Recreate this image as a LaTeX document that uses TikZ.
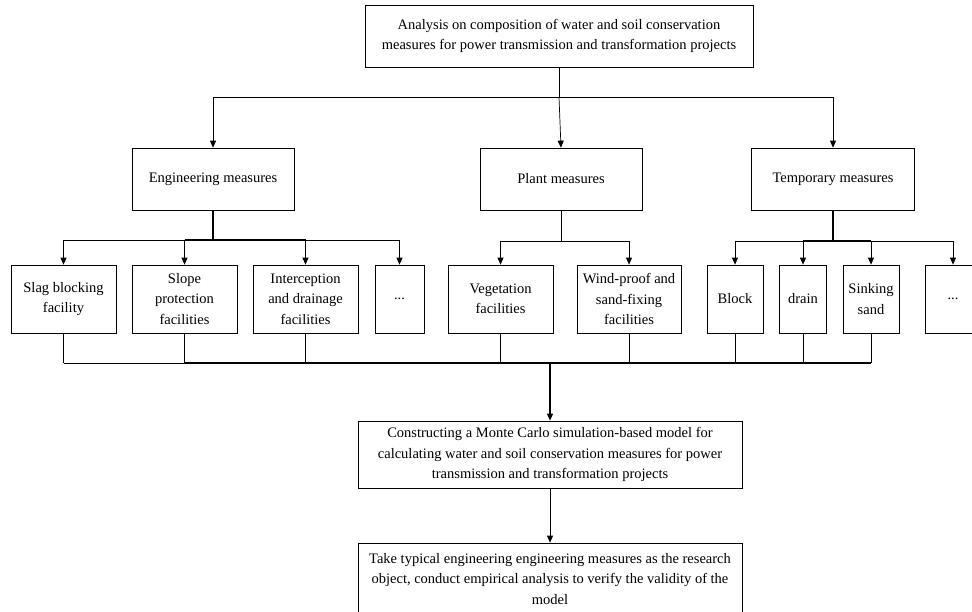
\documentclass[tikz,border=0pt]{standalone}
\usepackage{fontspec}
\setmainfont{Liberation Serif}
\usetikzlibrary{arrows.meta}
\begin{document}
\begin{tikzpicture}[x=1pt,y=-1pt,
  box/.style={draw, line width=0.7pt, inner sep=0pt, align=center,
    font=\fontsize{14.5}{20.5}\selectfont},
  conn/.style={line width=0.7pt},
  arr/.style={line width=0.7pt, -{Triangle[length=7pt,width=6pt]}},
  thickarr/.style={line width=1.4pt, -{Triangle[length=7pt,width=6pt]}}]
\useasboundingbox (0,0) rectangle (972,611);
\clip (0,0) rectangle (972,611);
% top
\node[box, minimum width=388pt, minimum height=62pt] (top) at (559,36)
  {Analysis on composition of water and soil conservation\\measures for power transmission and transformation projects};
% level 2
\node[box, minimum width=162pt, minimum height=62pt] (eng) at (213,179) {Engineering measures};
\node[box, minimum width=162pt, minimum height=62pt] (plant) at (561,179) {Plant measures};
\node[box, minimum width=163pt, minimum height=62pt] (temp) at (833,179) {Temporary measures};
% level 3
\node[box, minimum width=105pt, minimum height=68pt] (slag) at (63.5,299) {Slag blocking\\facility};
\node[box, minimum width=105pt, minimum height=68pt] (slope) at (184.5,299) {Slope\\protection\\facilities};
\node[box, minimum width=105pt, minimum height=68pt] (inter) at (305.5,299) {Interception\\and drainage\\facilities};
\node[box, minimum width=49pt, minimum height=68pt] (dotsa) at (399.5,299) {...};
\node[box, minimum width=105pt, minimum height=68pt] (veg) at (500.5,299) {Vegetation\\facilities};
\node[box, minimum width=104pt, minimum height=68pt] (wind) at (629,299) {Wind-proof and\\sand-fixing\\facilities};
\node[box, minimum width=56pt, minimum height=68pt] (block) at (735,299) {Block};
\node[box, minimum width=47pt, minimum height=68pt] (drain) at (803,299) {drain};
\node[box, minimum width=56pt, minimum height=68pt] (sink) at (871,299) {Sinking\\sand};
\node[box, minimum width=56pt, minimum height=68pt] (dotsb) at (953,299) {...};
% bottom
\node[box, minimum width=384pt, minimum height=67pt] (model) at (550,454.5)
  {Constructing a Monte Carlo simulation-based model for\\calculating water and soil conservation measures for power\\transmission and transformation projects};
\node[box, minimum width=384pt, minimum height=72pt] (verify) at (550,579)
  {Take typical engineering engineering measures as the research\\object, conduct empirical analysis to verify the validity of the\\model};
% coordinates
\coordinate (b1) at (559,97);
\coordinate (b2) at (213,240);
\coordinate (b3) at (561,241);
\coordinate (b4) at (833,241);
\coordinate (b5) at (550,363);
% top -> level 2
\draw[conn] (top.south) -- (b1);
\draw[conn] (eng.north |- b1) -- (temp.north |- b1);
\draw[arr] (eng.north |- b1) -- (eng.north);
\draw[arr] (b1) -- (plant.north);
\draw[arr] (temp.north |- b1) -- (temp.north);
% engineering
\draw[line width=1.2pt] (eng.south) -- (b2);
\draw[conn] (slag.north |- b2) -- (dotsa.north |- b2);
\draw[line width=1.2pt] (slope.north |- b2) -- (inter.north |- b2);
\foreach \n in {slag,slope,inter,dotsa} \draw[arr] (\n.north |- b2) -- (\n.north);
% plant
\draw[conn] (plant.south) -- (b3);
\draw[conn] (veg.north |- b3) -- (wind.north |- b3);
\foreach \n in {veg,wind} \draw[arr] (\n.north |- b3) -- (\n.north);
% temporary
\draw[line width=1.2pt] (temp.south) -- (b4);
\draw[conn] (block.north |- b4) -- (dotsb.north |- b4);
\draw[line width=1.2pt] (drain.north |- b4) -- (sink.north |- b4);
\foreach \n in {block,drain,sink,dotsb} \draw[arr] (\n.north |- b4) -- (\n.north);
% bottom bus
\foreach \n in {slag,slope,inter,veg,wind,block,drain,sink} \draw[conn] (\n.south) -- (\n.south |- b5);
\draw[conn] (slag.south |- b5) -- (slope.south |- b5);
\draw[line width=1.2pt] (slope.south |- b5) -- (sink.south |- b5);
\draw[thickarr] (b5) -- (model.north);
\draw[arr] (model.south) -- (verify.north);
\end{tikzpicture}
\end{document}
